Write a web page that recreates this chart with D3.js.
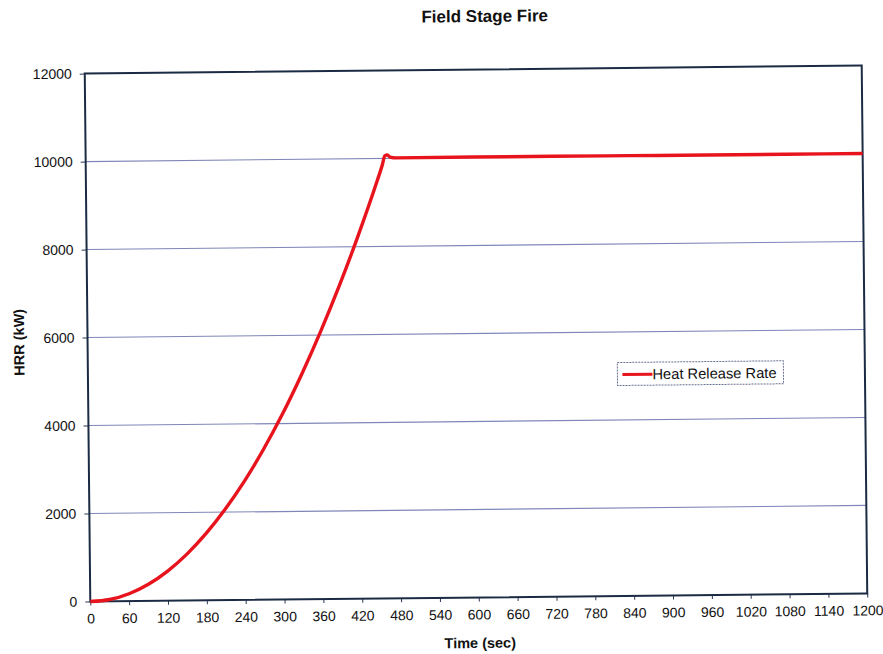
<!DOCTYPE html>
<html>
<head>
<meta charset="utf-8">
<script src="https://cdn.jsdelivr.net/npm/d3@7"></script>
<style>
  html, body { margin: 0; padding: 0; background: #fff; }
  svg { display: block; font-family: "Liberation Sans", Arial, sans-serif; }
</style>
</head>
<body>
<svg id="chart" width="883" height="654"></svg>
<script>
// Heat release rate of the field stage fire (time in s, HRR in kW)
const timeSec = [0, 30, 60, 90, 120, 150, 180, 210, 240, 270, 300, 330, 360, 390, 420, 450, 458, 462, 466, 470, 480, 600, 720, 840, 960, 1080, 1200];
const hrrKW   = [0, 42, 169, 380, 675, 1055, 1520, 2070, 2700, 3420, 4220, 5110, 6080, 7130, 8270, 9500, 9850, 10060, 10080, 10030, 10010, 10010, 10010, 10005, 10000, 10000, 10000];

const xTicks = d3.range(0, 1201, 60);
const yTicks = [0, 2000, 4000, 6000, 8000, 10000, 12000];

const chartTitle = "Field Stage Fire";
const xTitle = "Time (sec)";
const yTitle = "HRR (kW)";
const seriesName = "Heat Release Rate";

const W = 883, H = 654;
const m = { left: 87.5, right: 864.5, top: 69.5, bottom: 597.5 };
const cx = (m.left + m.right) / 2, cy = (m.top + m.bottom) / 2;

const svg = d3.select("#chart");
svg.append("rect").attr("width", W).attr("height", H).attr("fill", "#fff");

// the printed sheet sits at a slight tilt
const g = svg.append("g").attr("transform", `rotate(-0.6 ${cx} ${cy})`);

const x = d3.scaleLinear().domain([0, 1200]).range([m.left, m.right]);
const y = d3.scaleLinear().domain([0, 12000]).range([m.bottom, m.top]);

// horizontal gridlines
g.append("g").selectAll("line")
  .data(yTicks.filter(v => v > 0 && v < 12000))
  .join("line")
  .attr("x1", m.left).attr("x2", m.right)
  .attr("y1", d => y(d)).attr("y2", d => y(d))
  .attr("stroke", "#7f86b8").attr("stroke-width", 1.1);

// y axis
const yAxis = g.append("g")
  .attr("transform", `translate(${m.left},0)`)
  .call(d3.axisLeft(y).tickValues(yTicks).tickSize(5).tickPadding(8).tickFormat(d3.format("d")));
yAxis.select(".domain").remove();
yAxis.selectAll(".tick line").attr("stroke", "#2a3a55");
yAxis.selectAll(".tick text").attr("font-size", 14).attr("fill", "#111");

// x axis
const xAxis = g.append("g")
  .attr("transform", `translate(0,${m.bottom})`)
  .call(d3.axisBottom(x).tickValues(xTicks).tickSize(4).tickPadding(8).tickFormat(d3.format("d")));
xAxis.select(".domain").remove();
xAxis.selectAll(".tick line").attr("stroke", "#2a3a55");
xAxis.selectAll(".tick text").attr("font-size", 14).attr("fill", "#111");

// plot frame
g.append("rect")
  .attr("x", m.left).attr("y", m.top)
  .attr("width", m.right - m.left).attr("height", m.bottom - m.top)
  .attr("fill", "none").attr("stroke", "#1c2b44").attr("stroke-width", 2);

// HRR curve
const line = d3.line()
  .x((d, i) => x(timeSec[i]))
  .y(d => y(d))
  .curve(d3.curveMonotoneX);
g.append("path")
  .datum(hrrKW)
  .attr("d", line)
  .attr("fill", "none")
  .attr("stroke", "#e8141d")
  .attr("stroke-width", 3.4)
  .attr("stroke-linejoin", "round");

// legend
const lg = g.append("g").attr("transform", "translate(617,364)");
lg.append("rect").attr("width", 166).attr("height", 23)
  .attr("fill", "#fff").attr("stroke", "#6a7090").attr("stroke-width", 1)
  .attr("stroke-dasharray", "2,1");
lg.append("line").attr("x1", 5).attr("x2", 35).attr("y1", 12).attr("y2", 12)
  .attr("stroke", "#e8141d").attr("stroke-width", 3);
lg.append("text").attr("x", 35).attr("y", 17).attr("font-size", 14.7).attr("fill", "#111")
  .text(seriesName);

// titles
g.append("text").attr("x", 488).attr("y", 22).attr("text-anchor", "middle")
  .attr("font-size", 17).attr("font-weight", "bold").attr("fill", "#111")
  .text(chartTitle);
g.append("text").attr("x", 477).attr("y", 648).attr("text-anchor", "middle")
  .attr("font-size", 14.5).attr("font-weight", "bold").attr("fill", "#111")
  .text(xTitle);
g.append("text")
  .attr("transform", `translate(24,${cy + 4}) rotate(-90)`)
  .attr("text-anchor", "middle")
  .attr("font-size", 14.5).attr("font-weight", "bold").attr("fill", "#111")
  .text(yTitle);
</script>
</body>
</html>
